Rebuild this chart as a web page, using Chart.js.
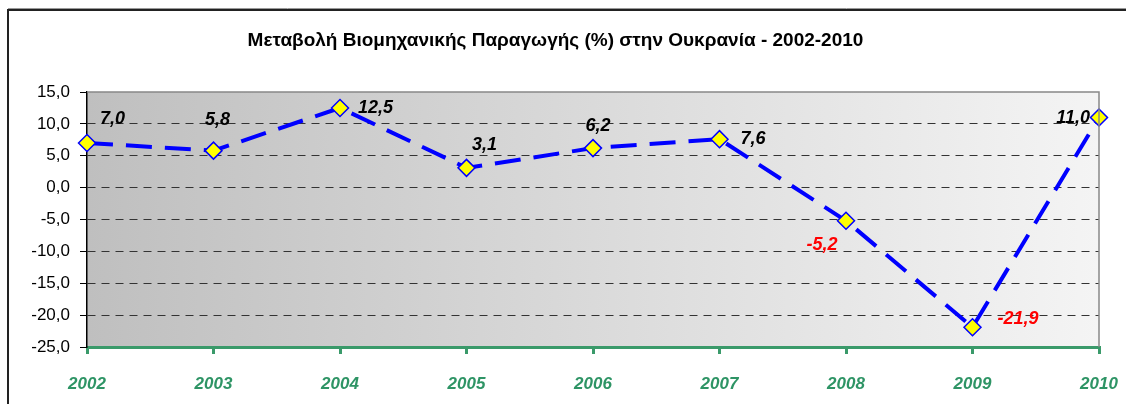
<!DOCTYPE html>
<html>
<head>
<meta charset="utf-8">
<script src="https://cdn.jsdelivr.net/npm/chart.js@4.4.1/dist/chart.umd.min.js"></script>
<style>
html,body{margin:0;padding:0;background:#fff;}
canvas{display:block;}
</style>
</head>
<body>
<canvas id="c" width="1126" height="404"></canvas>
<script>
const titleText = 'Μεταβολή Βιομηχανικής Παραγωγής (%) στην Ουκρανία - 2002-2010';
const years = ['2002','2003','2004','2005','2006','2007','2008','2009','2010'];
const growth = [7.0, 5.8, 12.5, 3.1, 6.2, 7.6, -5.2, -21.9, 11.0];
const yTicks = [15, 10, 5, 0, -5, -10, -15, -20, -25];

// label placement (pixel offsets from point, and text alignment)
const labelPlacement = [
  [13, -24, 'left'], [4, -31, 'center'], [18, 0, 'left'], [18, -23, 'center'],
  [5, -22, 'center'], [21, 0, 'left'], [-24, 24, 'center'], [25, -8, 'left'], [-9, 1, 'right']
];

const fmt = v => v.toFixed(1).replace('.', ',');

const decor = {
  id: 'decor',
  beforeDraw(chart) {
    const {ctx, chartArea: a} = chart;
    ctx.save();
    ctx.fillStyle = '#fff';
    ctx.fillRect(0, 0, chart.width, chart.height);
    const g = ctx.createLinearGradient(a.left, 0, a.right, 0);
    g.addColorStop(0, '#bfbfbf');
    g.addColorStop(0.5, '#dadada');
    g.addColorStop(1, '#f4f4f4');
    ctx.fillStyle = g;
    ctx.fillRect(a.left, a.top, a.right - a.left, a.bottom - a.top);
    // outer frame
    ctx.strokeStyle = '#222';
    ctx.lineWidth = 2;
    ctx.beginPath();
    ctx.moveTo(8, chart.height);
    ctx.lineTo(8, 10);
    ctx.lineTo(chart.width, 10);
    ctx.stroke();
    ctx.strokeStyle = '#999';
    ctx.lineWidth = 1;
    ctx.beginPath();
    ctx.moveTo(8, 8.5);
    ctx.lineTo(chart.width, 8.5);
    ctx.stroke();
    ctx.restore();
  },
  afterDatasetsDraw(chart) {
    const {ctx, chartArea: a} = chart;
    ctx.save();
    ctx.strokeStyle = '#888';
    ctx.lineWidth = 1.5;
    ctx.beginPath();
    ctx.moveTo(a.left, a.top);
    ctx.lineTo(a.right, a.top);
    ctx.lineTo(a.right, a.bottom);
    ctx.stroke();
    const meta = chart.getDatasetMeta(0);
    ctx.font = 'italic bold 18px "Liberation Sans", Arial, sans-serif';
    ctx.textBaseline = 'middle';
    meta.data.forEach((pt, i) => {
      const v = growth[i];
      const [dx, dy, al] = labelPlacement[i];
      ctx.fillStyle = v < 0 ? '#ff0000' : '#000000';
      ctx.textAlign = al;
      ctx.fillText(fmt(v), pt.x + dx, pt.y + dy);
    });
    ctx.restore();
  }
};

new Chart(document.getElementById('c'), {
  type: 'line',
  data: {
    labels: years,
    datasets: [{
      data: growth,
      borderColor: '#0000ff',
      borderWidth: 4,
      borderDash: [26, 13],
      tension: 0,
      fill: false,
      pointStyle: 'rectRot',
      pointRadius: 8.5,
      pointHoverRadius: 8.5,
      pointBackgroundColor: '#ffff00',
      pointBorderColor: '#0000ff',
      pointBorderWidth: 1.5,
      clip: false
    }]
  },
  options: {
    responsive: false,
    animation: false,
    events: [],
    layout: { padding: { left: 0, right: 15, top: 0, bottom: 0 } },
    plugins: {
      legend: { display: false },
      tooltip: { enabled: false },
      title: {
        display: true,
        text: titleText,
        color: '#000',
        font: { family: '"Liberation Sans", Arial, sans-serif', size: 19, weight: 'bold', lineHeight: 1.2 },
        padding: { top: 29, bottom: 40.2 }
      }
    },
    scales: {
      x: {
        offset: false,
        afterFit(s) { s.height = 57; s.paddingLeft = 0; s.paddingRight = 27; },
        grid: {
          drawOnChartArea: false,
          drawTicks: true,
          tickLength: 7,
          color: '#3a9a6a',
          lineWidth: 3
        },
        border: { display: true, color: '#3a9a6a', width: 3 },
        ticks: {
          color: '#2e9465',
          padding: 20,
          font: { family: '"Liberation Sans", Arial, sans-serif', size: 17, weight: 'bold', style: 'italic' },
          maxRotation: 0
        }
      },
      y: {
        min: -25,
        max: 15,
        afterFit(s) { s.width = 87; },
        afterBuildTicks(s) { s.ticks = yTicks.map(v => ({ value: v })); },
        grid: {
          drawTicks: true,
          tickLength: 7,
          color: ctx => (ctx.tick && (ctx.tick.value === 15 || ctx.tick.value === -25)) ? 'rgba(0,0,0,0)' : '#333',
          tickColor: '#000',
          lineWidth: 1
        },
        border: { display: true, color: '#000', width: 1.5, dash: [8, 6] },
        ticks: {
          color: '#000',
          padding: 10,
          font: { family: '"Liberation Sans", Arial, sans-serif', size: 17 },
          callback: v => fmt(v)
        }
      }
    }
  },
  plugins: [decor]
});
</script>
</body>
</html>
